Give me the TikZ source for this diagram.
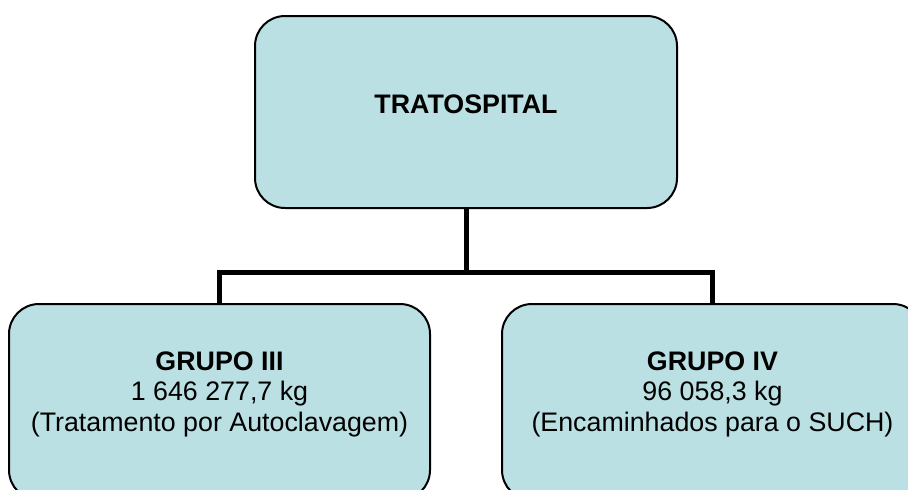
\documentclass[tikz,border=0pt]{standalone}
\usepackage{fontspec}
\setmainfont{Liberation Sans}
\usepackage{tikz}
\usetikzlibrary{positioning}
\definecolor{boxBlue}{HTML}{BBE0E3}

\begin{document}
\begin{tikzpicture}[
  x=0.5pt, y=-0.5pt,
  box/.style={draw, fill=boxBlue, rounded corners=15pt, line width=1pt, minimum width=210.5pt, minimum height=98pt, inner sep=0pt},
  lab/.style={align=center, font=\fontsize{13.4}{15.25}\selectfont},
  link/.style={line width=2.5pt}
]
\useasboundingbox (0,0) rectangle (908,489);
\clip (0,0) rectangle (908,489);
\node[box, minimum width=211pt, minimum height=96pt] (top) at (466,112) {};
\node[box] (g3) at (219.5,402) {};
\node[box] (g4) at (712.5,402) {};
\node[lab] (topText) at (466,104) {\textbf{TRATOSPITAL}};
\node[lab] (g3Text) at (219.5,394) {\textbf{GRUPO III}\\1 646 277,7 kg\\(Tratamento por Autoclavagem)};
\node[lab] (g4Text) at (712.5,394) {\textbf{GRUPO IV}\\96 058,3 kg\\(Encaminhados para o SUCH)};
\coordinate (fork) at (466,272);
\draw[link] (top.south) -- (fork) -| (g3.north);
\draw[link] (fork) -| (g4.north);
\end{tikzpicture}
\end{document}
